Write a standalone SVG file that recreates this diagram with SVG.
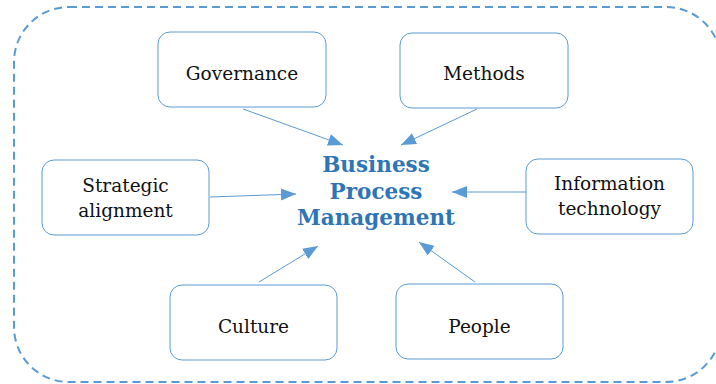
<svg xmlns="http://www.w3.org/2000/svg" width="716" height="384" viewBox="0 0 716 384">
  <style>
    .frame { fill: none; stroke: #5b9bd5; stroke-width: 2; stroke-dasharray: 8 5; }
    .box { fill: #ffffff; stroke: #5b9bd5; stroke-width: 1; }
    .label { font-family: "DejaVu Serif", Georgia, serif; font-size: 18.5px; fill: #111111; text-anchor: middle; }
    .title { font-family: "DejaVu Serif", Georgia, serif; font-size: 21.5px; font-weight: bold; fill: #2e75b6; text-anchor: middle; }
    .link { stroke: #5b9bd5; stroke-width: 1; fill: none; marker-end: url(#arrow); }
  </style>
  <defs>
    <marker id="arrow" markerUnits="userSpaceOnUse" markerWidth="15" markerHeight="12" refX="15" refY="6" orient="auto">
      <path d="M0,0 L15,6 L0,12 z" fill="#5b9bd5"/>
    </marker>
  </defs>

  <rect width="716" height="384" fill="#ffffff"/>

  <!-- outer dashed boundary -->
  <rect class="frame" x="14" y="7" width="707" height="375" rx="55" ry="55"/>

  <!-- connectors -->
  <g id="connectors">
    <line class="link" x1="243" y1="109" x2="343" y2="145"/>
    <line class="link" x1="477" y1="109" x2="401" y2="145"/>
    <line class="link" x1="210" y1="197" x2="296" y2="194"/>
    <line class="link" x1="526" y1="192" x2="452" y2="192"/>
    <line class="link" x1="259" y1="282" x2="318" y2="246"/>
    <line class="link" x1="475" y1="282" x2="419" y2="242"/>
  </g>

  <!-- central concept -->
  <g id="bpm">
    <text class="title" x="376" y="172">Business</text>
    <text class="title" x="376" y="198.5">Process</text>
    <text class="title" x="376" y="225">Management</text>
  </g>

  <g id="governance">
    <rect class="box" x="158" y="32" width="168" height="75" rx="12"/>
    <text class="label" x="242" y="80">Governance</text>
  </g>

  <g id="methods">
    <rect class="box" x="400" y="33" width="168" height="75" rx="12"/>
    <text class="label" x="484" y="80">Methods</text>
  </g>

  <g id="strategic-alignment">
    <rect class="box" x="42" y="160" width="167" height="75" rx="12"/>
    <text class="label" x="125.5" y="192">Strategic</text>
    <text class="label" x="125.5" y="217">alignment</text>
  </g>

  <g id="information-technology">
    <rect class="box" x="526" y="159" width="167" height="75" rx="12"/>
    <text class="label" x="609.5" y="190">Information</text>
    <text class="label" x="609.5" y="215">technology</text>
  </g>

  <g id="culture">
    <rect class="box" x="170" y="285" width="167" height="75" rx="12"/>
    <text class="label" x="253.5" y="333">Culture</text>
  </g>

  <g id="people">
    <rect class="box" x="396" y="284" width="167" height="75" rx="12"/>
    <text class="label" x="479.5" y="333">People</text>
  </g>
</svg>
